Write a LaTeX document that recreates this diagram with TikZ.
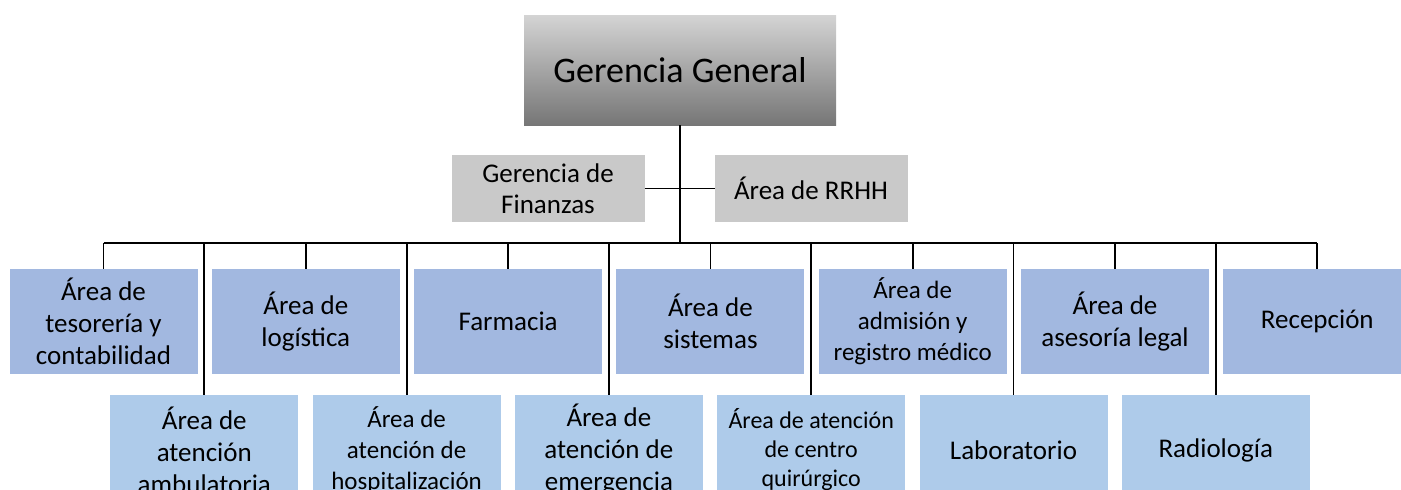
\documentclass[tikz,border=0pt]{standalone}
\usepackage{fontspec}
\setmainfont{Carlito}
\usetikzlibrary{positioning}
\definecolor{unitblue}{HTML}{A2B8E0}
\definecolor{subblue}{HTML}{AECBEA}
\definecolor{staffgray}{HTML}{C9C9C9}
\definecolor{headtop}{HTML}{D4D4D4}
\definecolor{headbot}{HTML}{767676}
\begin{document}
\begin{tikzpicture}[x=1pt, y=-1pt, node distance={14.3pt}, line width=1.8pt,
	head/.style = {top color=headtop, bottom color=headbot, outer sep=0pt, minimum width=312pt, minimum height=110pt, font=\fontsize{36}{43}\selectfont},
	staff/.style = {fill=staffgray, outer sep=0pt, minimum width=193pt, minimum height=67pt, align=center, font=\fontsize{27}{31}\selectfont},
	unit/.style = {fill=unitblue, outer sep=0pt, minimum width=188pt, minimum height=105pt, align=center, font=\fontsize{27}{32}\selectfont},
	subunit/.style = {unit, fill=subblue, minimum height=110pt}]
		\clip (0,0) rectangle (1401,490);
		\node[head] (gg) at (680,70) {Gerencia General};
		\node[staff] (fin) at (548,188.5) {Gerencia de\\Finanzas};
		\node[staff] (rrhh) at (811,188.5) {Área de RRHH};
		\node[unit] (t1) at (103.5,321.5) {Área de\\tesorería y\\contabilidad};
		\node[unit] (t2) [right=of t1] {Área de\\logística};
		\node[unit] (t3) [right=of t2] {Farmacia};
		\node[unit] (t4) [right=of t3] {Área de\\sistemas};
		\node[unit, font=\fontsize{25}{31}\selectfont] (t5) [right=of t4] {Área de\\admisión y\\registro médico};
		\node[unit] (t6) [right=of t5] {Área de\\asesoría legal};
		\node[unit] (t7) [right=of t6] {Recepción};
		\node[subunit] (b1) at (204.3,450) {Área de\\atención\\ambulatoria};
		\node[subunit, font=\fontsize{25}{31}\selectfont] (b2) [right=of b1] {Área de\\atención de\\hospitalización};
		\node[subunit] (b3) [right=of b2] {Área de\\atención de\\emergencia};
		\node[subunit, font=\fontsize{24}{29}\selectfont] (b4) [right=of b3] {Área de atención\\de centro\\quirúrgico};
		\node[subunit] (b5) [right=of b4] {Laboratorio};
		\node[subunit] (b6) [right=of b5] {Radiología};
		\coordinate (bus) at (0,243);
		\draw (gg.south) -- (gg.south |- bus);
		\draw (fin.east) -- (rrhh.west);
		\draw (t1.north |- bus) -- (t7.north |- bus);
		\draw (t1.north |- bus) -- (t1.north);
		\draw (t2.north |- bus) -- (t2.north);
		\draw (t3.north |- bus) -- (t3.north);
		\draw (t4.north |- bus) -- (t4.north);
		\draw (t5.north |- bus) -- (t5.north);
		\draw (t6.north |- bus) -- (t6.north);
		\draw (t7.north |- bus) -- (t7.north);
		\draw (b1.north |- bus) -- (b1.north);
		\draw (b2.north |- bus) -- (b2.north);
		\draw (b3.north |- bus) -- (b3.north);
		\draw (b4.north |- bus) -- (b4.north);
		\draw (b5.north |- bus) -- (b5.north);
		\draw (b6.north |- bus) -- (b6.north);
\end{tikzpicture}
\end{document}
